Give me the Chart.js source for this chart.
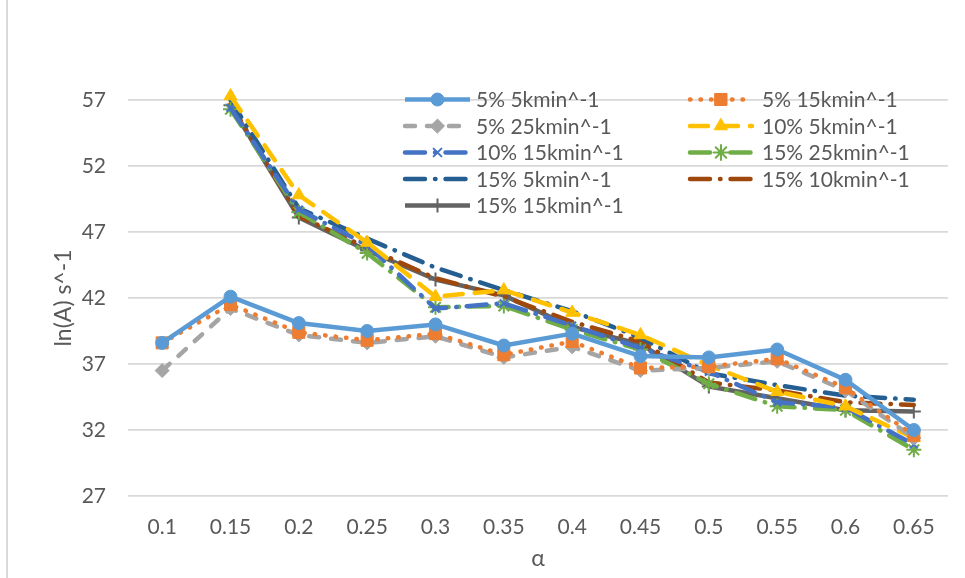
<!DOCTYPE html>
<html>
<head>
<meta charset="utf-8">
<script src="https://cdn.jsdelivr.net/npm/chart.js@4.4.1/dist/chart.umd.min.js"></script>
<style>
  html, body { margin: 0; padding: 0; background: #fff; }
  #wrap { position: relative; width: 965px; height: 578px; }
  #frame { position: absolute; left: 6px; top: 0; width: 0; height: 578px; border-left: 2px solid #d9d9d9; }
</style>
</head>
<body>
<div id="wrap">
  <div id="frame"></div>
  <canvas id="lnChart" width="965" height="578"></canvas>
</div>
<script>
// alpha categories on the x axis
const alphaLabels = ['0.1', '0.15', '0.2', '0.25', '0.3', '0.35', '0.4', '0.45', '0.5', '0.55', '0.6', '0.65'];

// ln(A) values for each heating-rate / content combination
const s5_5   = [38.6, 42.1, 40.1, 39.5, 40.0, 38.4, 39.3, 37.6, 37.5, 38.1, 35.8, 32.0];
const s5_15  = [38.6, 41.5, 39.4, 38.8, 39.3, 37.7, 38.7, 36.7, 36.8, 37.4, 35.2, 31.6];
const s5_25  = [36.5, 41.2, 39.2, 38.6, 39.1, 37.5, 38.3, 36.5, 36.7, 37.2, 35.0, 31.4];
const s10_5  = [null, 57.3, 49.8, 46.2, 42.1, 42.6, 40.9, 39.2, 36.9, 34.9, 33.8, 31.4];
const s10_15 = [null, 56.4, 48.7, 46.0, 41.2, 41.6, 39.9, 38.2, 36.4, 34.1, 33.7, 30.9];
const s15_25 = [null, 56.3, 48.5, 45.4, 41.3, 41.4, 39.6, 38.1, 35.5, 33.8, 33.5, 30.5];
const s15_5  = [null, 57.0, 48.8, 46.5, 44.3, 42.6, 41.0, 39.0, 36.3, 35.4, 34.6, 34.3];
const s15_10 = [null, 56.7, 48.2, 45.8, 43.5, 42.1, 40.2, 38.7, 35.6, 35.0, 34.1, 33.9];
const s15_15 = [null, 56.6, 48.1, 45.6, 43.4, 42.2, 39.8, 38.5, 35.3, 34.4, 33.5, 33.4];

const yTicks = { min: 27, max: 57, step: 5 };

const textColor = '#595959';
const fontFamily = 'Lato, "Noto Sans", sans-serif';

const dashDot = [20, 10, 0.5, 10];

function series(label, data, color, dash, style, radius, bw) {
    return {
        label: label,
        data: data,
        borderColor: color,
        backgroundColor: color,
        borderWidth: 4.5,
        borderDash: dash,
        borderCapStyle: dash.length ? 'round' : 'butt',
        borderJoinStyle: 'round',
        pointStyle: style,
        pointRadius: style ? radius : 0,
        pointBorderWidth: bw,
        pointBorderColor: color,
        pointBackgroundColor: color,
        tension: 0,
        clip: false
    };
}

const datasets = [
    series('5% 5kmin^-1',   s5_5,   '#5B9BD5', [],        'circle',   6.5, 1),
    series('5% 15kmin^-1',  s5_15,  '#ED7D31', [0.5, 10], 'rect',     8.5, 1),
    series('5% 25kmin^-1',  s5_25,  '#A5A5A5', [10, 12],  'rectRot',  7,   1),
    series('10% 5kmin^-1',  s10_5,  '#FFC000', [18, 12],  'triangle', 7.5, 1),
    series('10% 15kmin^-1', s10_15, '#4472C4', dashDot,   'crossRot', 5.5, 2),
    series('15% 25kmin^-1', s15_25, '#70AD47', dashDot,   'star',     7.5, 2),
    series('15% 5kmin^-1',  s15_5,  '#255E91', dashDot,   false,      0,   1),
    series('15% 10kmin^-1', s15_10, '#9E480E', dashDot,   false,      0,   1),
    series('15% 15kmin^-1', s15_15, '#636363', [],        'cross',    7,   2)
];

// two-column legend drawn inside the plot area
const insideLegend = {
    id: 'insideLegend',
    afterDraw(chart) {
        const ctx = chart.ctx;
        const cols = [{ x0: 405, x1: 470, tx: 476 }, { x0: 690, x1: 752, tx: 762 }];
        const rowY = 99.5, rowH = 26.5;
        chart.data.datasets.forEach((ds, i) => {
            const c = cols[i % 2];
            const y = rowY + Math.floor(i / 2) * rowH;
            ctx.save();
            ctx.strokeStyle = ds.borderColor;
            ctx.fillStyle = ds.borderColor;
            ctx.lineWidth = ds.borderWidth;
            ctx.lineCap = ds.borderCapStyle;
            ctx.setLineDash(ds.borderDash);
            ctx.beginPath();
            ctx.moveTo(c.x0, y);
            ctx.lineTo(c.x1, y);
            ctx.stroke();
            ctx.setLineDash([]);
            if (ds.pointStyle) {
                ctx.lineWidth = ds.pointBorderWidth;
                Chart.helpers.drawPoint(ctx, {
                    pointStyle: ds.pointStyle,
                    radius: ds.pointRadius,
                    borderWidth: ds.pointBorderWidth,
                    rotation: 0
                }, (c.x0 + c.x1) / 2, y);
            }
            ctx.fillStyle = textColor;
            ctx.font = '21px ' + fontFamily;
            ctx.textBaseline = 'middle';
            ctx.textAlign = 'left';
            ctx.fillText(ds.label, c.tx, y + 1);
            ctx.restore();
        });
    }
};

Chart.defaults.font.family = fontFamily;
Chart.defaults.font.size = 21;
Chart.defaults.color = textColor;

new Chart(document.getElementById('lnChart').getContext('2d'), {
    type: 'line',
    data: { labels: alphaLabels, datasets: datasets },
    options: {
        responsive: false,
        animation: false,
        devicePixelRatio: 1,
        layout: { padding: { left: 0, right: 17, top: 100, bottom: 0 } },
        scales: {
            x: {
                offset: true,
                grid: { display: false, drawTicks: false },
                border: { display: false },
                ticks: { padding: 19, maxRotation: 0, autoSkip: false },
                title: { display: true, text: 'α', font: { size: 23 }, padding: { top: 0, bottom: 6 } },
                afterFit(scale) { scale.height = 82; }
            },
            y: {
                min: yTicks.min,
                max: yTicks.max,
                ticks: { stepSize: yTicks.step, padding: 22 },
                grid: { color: '#d9d9d9', lineWidth: 1.8, drawTicks: false },
                border: { display: false },
                title: { display: true, text: 'ln(A) s^-1', font: { size: 23 }, padding: { top: 50, bottom: 0 } },
                afterFit(scale) { scale.width = 128; }
            }
        },
        plugins: {
            legend: { display: false },
            tooltip: { enabled: false }
        }
    },
    plugins: [insideLegend]
});
</script>
</body>
</html>
